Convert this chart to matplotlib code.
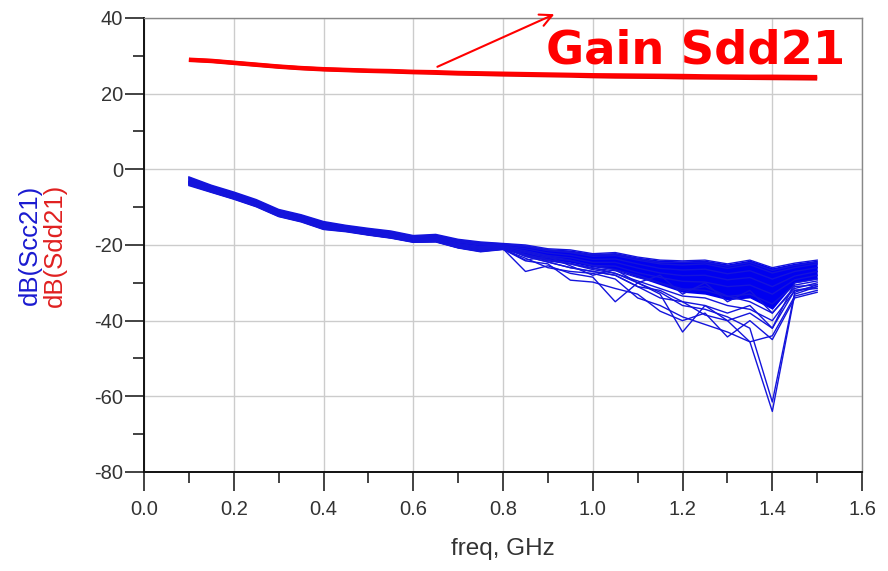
import matplotlib
matplotlib.use("Agg")
import matplotlib.pyplot as plt
import numpy as np
from matplotlib.ticker import MultipleLocator, FormatStrFormatter

plt.rcParams['font.family'] = ['Liberation Sans', 'DejaVu Sans']
plt.rcParams['axes.unicode_minus'] = False

# frequency sweep, GHz
freq = [0.10, 0.15, 0.20, 0.25, 0.30, 0.35, 0.40, 0.45, 0.50, 0.55, 0.60, 0.65, 0.70, 0.75,
        0.80, 0.85, 0.90, 0.95, 1.00, 1.05, 1.10, 1.15, 1.20, 1.25, 1.30, 1.35, 1.40, 1.45, 1.50]

# differential gain, dB(Sdd21)
sdd21_hi = [29.0, 28.7, 28.2, 27.7, 27.2, 26.8, 26.5, 26.3, 26.1, 26.0, 25.8, 25.7, 25.5, 25.4,
            25.3, 25.2, 25.1, 25.0, 24.9, 24.85, 24.8, 24.75, 24.7, 24.6, 24.55, 24.5, 24.5, 24.45, 24.4]
sdd21_lo = [28.9, 28.6, 28.1, 27.6, 27.1, 26.7, 26.4, 26.2, 26.0, 25.85, 25.65, 25.5, 25.3, 25.2,
            25.05, 24.95, 24.85, 24.75, 24.6, 24.5, 24.45, 24.4, 24.3, 24.25, 24.2, 24.15, 24.1, 24.05, 24.0]

# common mode, dB(Scc21) - top and bottom of the dense band
scc21_top = [-2.0, -4.2, -6.0, -8.0, -10.6, -12.0, -13.8, -14.8, -15.6, -16.3, -17.5, -17.2, -18.5, -19.2,
             -19.6, -20.0, -21.0, -21.3, -22.3, -22.0, -23.2, -24.0, -24.2, -24.0, -25.0, -24.0, -26.0, -24.8, -24.0]
scc21_dense_low = [-3.6, -5.6, -7.4, -9.4, -12.0, -13.4, -15.3, -16.1, -17.1, -17.9, -19.0, -18.8, -20.3, -21.4,
                   -21.0, -22.6, -23.8, -24.6, -25.8, -26.5, -28.5, -30.5, -32.5, -33.0, -34.5, -34.0, -37.0, -30.0, -29.0]

# individual Monte Carlo runs
scc21_runs = [
    scc21_top,
    [-2.2, -4.4, -6.2, -8.2, -10.8, -12.2, -14.0, -15.0, -15.8, -16.5, -17.7, -17.4, -18.7, -19.4,
     -19.7, -20.3, -21.3, -21.8, -22.6, -22.4, -23.6, -24.6, -24.6, -24.5, -25.6, -24.6, -26.7, -25.4, -24.5],
    [-2.4, -4.6, -6.4, -8.4, -11.0, -12.4, -14.2, -15.2, -16.0, -16.7, -17.9, -17.6, -18.9, -19.6,
     -19.9, -20.5, -21.5, -22.0, -23.0, -22.8, -24.0, -25.0, -25.3, -25.0, -26.2, -25.2, -27.4, -26.0, -25.0],
    [-2.6, -4.8, -6.6, -8.6, -11.2, -12.6, -14.4, -15.4, -16.2, -16.9, -18.1, -17.8, -19.1, -19.8,
     -20.0, -21.8, -23.0, -24.0, -25.5, -26.5, -28.0, -30.0, -32.0, -31.0, -33.5, -35.0, -38.0, -31.5, -30.0],
    [-2.8, -5.0, -6.8, -8.8, -11.4, -12.8, -14.6, -15.5, -16.4, -17.1, -18.3, -18.0, -19.3, -20.0,
     -20.2, -21.0, -22.1, -22.7, -23.8, -23.7, -25.0, -26.2, -26.6, -26.4, -27.6, -26.8, -29.0, -27.0, -26.0],
    [-3.0, -5.1, -6.9, -8.9, -11.5, -12.9, -14.8, -15.7, -16.6, -17.3, -18.5, -18.2, -19.6, -20.4,
     -20.4, -22.5, -23.8, -24.8, -26.0, -27.5, -29.5, -31.5, -33.5, -34.0, -36.0, -37.0, -40.0, -32.0, -31.0],
    [-3.2, -5.3, -7.1, -9.1, -11.7, -13.1, -15.0, -15.8, -16.8, -17.5, -18.7, -18.4, -19.8, -20.6,
     -20.5, -21.5, -22.8, -23.4, -24.6, -24.6, -26.1, -27.4, -28.1, -28.0, -29.2, -28.6, -31.0, -28.2, -27.0],
    [-3.4, -5.5, -7.3, -9.3, -11.9, -13.3, -15.1, -16.0, -17.0, -17.7, -18.9, -18.6, -20.1, -20.9,
     -20.7, -23.0, -24.5, -26.0, -27.0, -28.0, -31.0, -32.0, -35.0, -36.0, -38.0, -36.0, -42.0, -30.0, -29.0],
    [-3.6, -5.6, -7.4, -9.4, -12.0, -13.4, -15.3, -16.1, -17.1, -17.9, -19.0, -18.8, -20.3, -21.2,
     -20.8, -22.0, -23.4, -24.1, -25.4, -25.6, -27.3, -28.6, -29.6, -29.8, -31.0, -30.6, -33.0, -29.2, -28.0],
    [-3.8, -5.8, -7.6, -9.6, -12.2, -13.6, -15.5, -16.3, -17.2, -18.0, -19.1, -19.0, -20.5, -21.5,
     -21.0, -24.0, -23.0, -25.5, -28.0, -26.5, -30.0, -28.0, -33.0, -30.0, -35.0, -32.0, -38.0, -31.0, -30.5],
    [-4.3, -6.1, -7.9, -9.9, -12.5, -13.9, -15.9, -16.5, -17.4, -18.2, -19.3, -19.2, -20.8, -21.8,
     -21.2, -22.6, -24.2, -25.0, -26.2, -26.8, -28.6, -30.0, -31.6, -32.0, -33.6, -33.0, -35.6, -30.6, -29.5],
    # outliers
    [-3.7, -5.7, -7.5, -9.5, -12.1, -13.5, -15.4, -16.2, -17.2, -18.0, -19.1, -19.0, -20.6, -21.6,
     -21.0, -27.0, -25.5, -27.5, -28.5, -35.0, -30.0, -33.0, -43.0, -36.0, -40.0, -38.0, -42.0, -32.0, -31.5],
    [-4.1, -6.0, -7.8, -9.8, -12.4, -13.8, -15.8, -16.4, -17.3, -18.1, -19.2, -19.1, -20.7, -21.7,
     -21.1, -24.2, -25.0, -29.3, -29.8, -31.5, -33.0, -37.5, -40.0, -38.0, -44.3, -40.0, -45.0, -34.0, -32.5],
    [-3.3, -5.4, -7.2, -9.2, -11.8, -13.2, -15.1, -15.9, -16.9, -17.6, -18.8, -18.5, -19.9, -20.7,
     -20.6, -23.0, -24.5, -26.0, -27.0, -28.0, -31.0, -34.0, -35.0, -38.5, -40.0, -45.6, -64.0, -33.0, -31.0],
    [-3.5, -5.5, -7.3, -9.3, -11.9, -13.3, -15.2, -16.0, -17.0, -17.8, -18.9, -18.7, -20.2, -21.0,
     -20.7, -22.8, -24.0, -25.0, -26.5, -27.5, -30.0, -32.5, -36.0, -37.0, -39.0, -42.0, -61.5, -32.5, -30.5],
    [-4.0, -5.9, -7.7, -9.7, -12.3, -13.7, -15.7, -16.3, -17.3, -18.1, -19.2, -19.1, -20.7, -21.6,
     -21.1, -23.5, -26.0, -27.0, -27.5, -29.0, -34.0, -36.0, -39.0, -41.0, -43.0, -45.6, -44.0, -33.5, -32.0],
]

fig = plt.figure(figsize=(8.88, 5.71), dpi=100)
ax = fig.add_axes([0.1622, 0.1734, 0.8086, 0.7951])

ax.fill_between(freq, scc21_top, scc21_dense_low, color='#0000f0', lw=0, zorder=2)
for run in scc21_runs:
    ax.plot(freq, run, color='#1414dc', lw=1.0, zorder=3)

ax.plot(freq, sdd21_lo, color='#e80000', lw=3.0, solid_capstyle='butt', zorder=4)
ax.plot(freq, sdd21_hi, color='#ff0000', lw=3.0, solid_capstyle='butt', zorder=4)

ax.set_xlim(0, 1.6)
ax.set_ylim(-80, 40)
ax.xaxis.set_major_locator(MultipleLocator(0.2))
ax.xaxis.set_minor_locator(MultipleLocator(0.1))
ax.yaxis.set_major_locator(MultipleLocator(20))
ax.yaxis.set_minor_locator(MultipleLocator(10))
ax.xaxis.set_major_formatter(FormatStrFormatter('%.1f'))
ax.grid(True, which='major', color='#cccccc', lw=1.0, zorder=0)
ax.set_axisbelow(True)

ax.tick_params(which='major', direction='out', length=14, width=1.2, labelsize=14.5,
               colors='#222222', labelcolor='#333333')
ax.tick_params(which='minor', direction='out', length=8, width=1.2, colors='#222222')
ax.tick_params(axis='y', which='major', pad=1)
ax.tick_params(axis='x', which='major', pad=6)

for side in ['left', 'bottom']:
    ax.spines[side].set_color('#111111')
    ax.spines[side].set_linewidth(1.4)
for side in ['top', 'right']:
    ax.spines[side].set_color('#888888')
    ax.spines[side].set_linewidth(1.0)

ax.set_xlabel('freq, GHz', fontsize=17.5, color='#333333', labelpad=14)

fig.text(30 / 888, 1 - 245 / 571, 'dB(Scc21)', rotation=90, color='#1a1ad0', fontsize=18.5,
         ha='center', va='center')
fig.text(55 / 888, 1 - 245 / 571, 'dB(Sdd21)', rotation=90, color='#e02020', fontsize=18.5,
         ha='center', va='center')

ax.annotate('', xy=(0.92, 41.3), xytext=(0.648, 26.8),
            arrowprops=dict(arrowstyle='->', color='red', lw=1.5, mutation_scale=22),
            annotation_clip=False, zorder=6)
ax.text(1.562, 28.1, 'Gain Sdd21', color='#ff0000', fontsize=33.5, fontweight='bold',
        family='DejaVu Sans', ha='right', va='baseline', zorder=6)

fig.savefig('out.png', dpi=100)
